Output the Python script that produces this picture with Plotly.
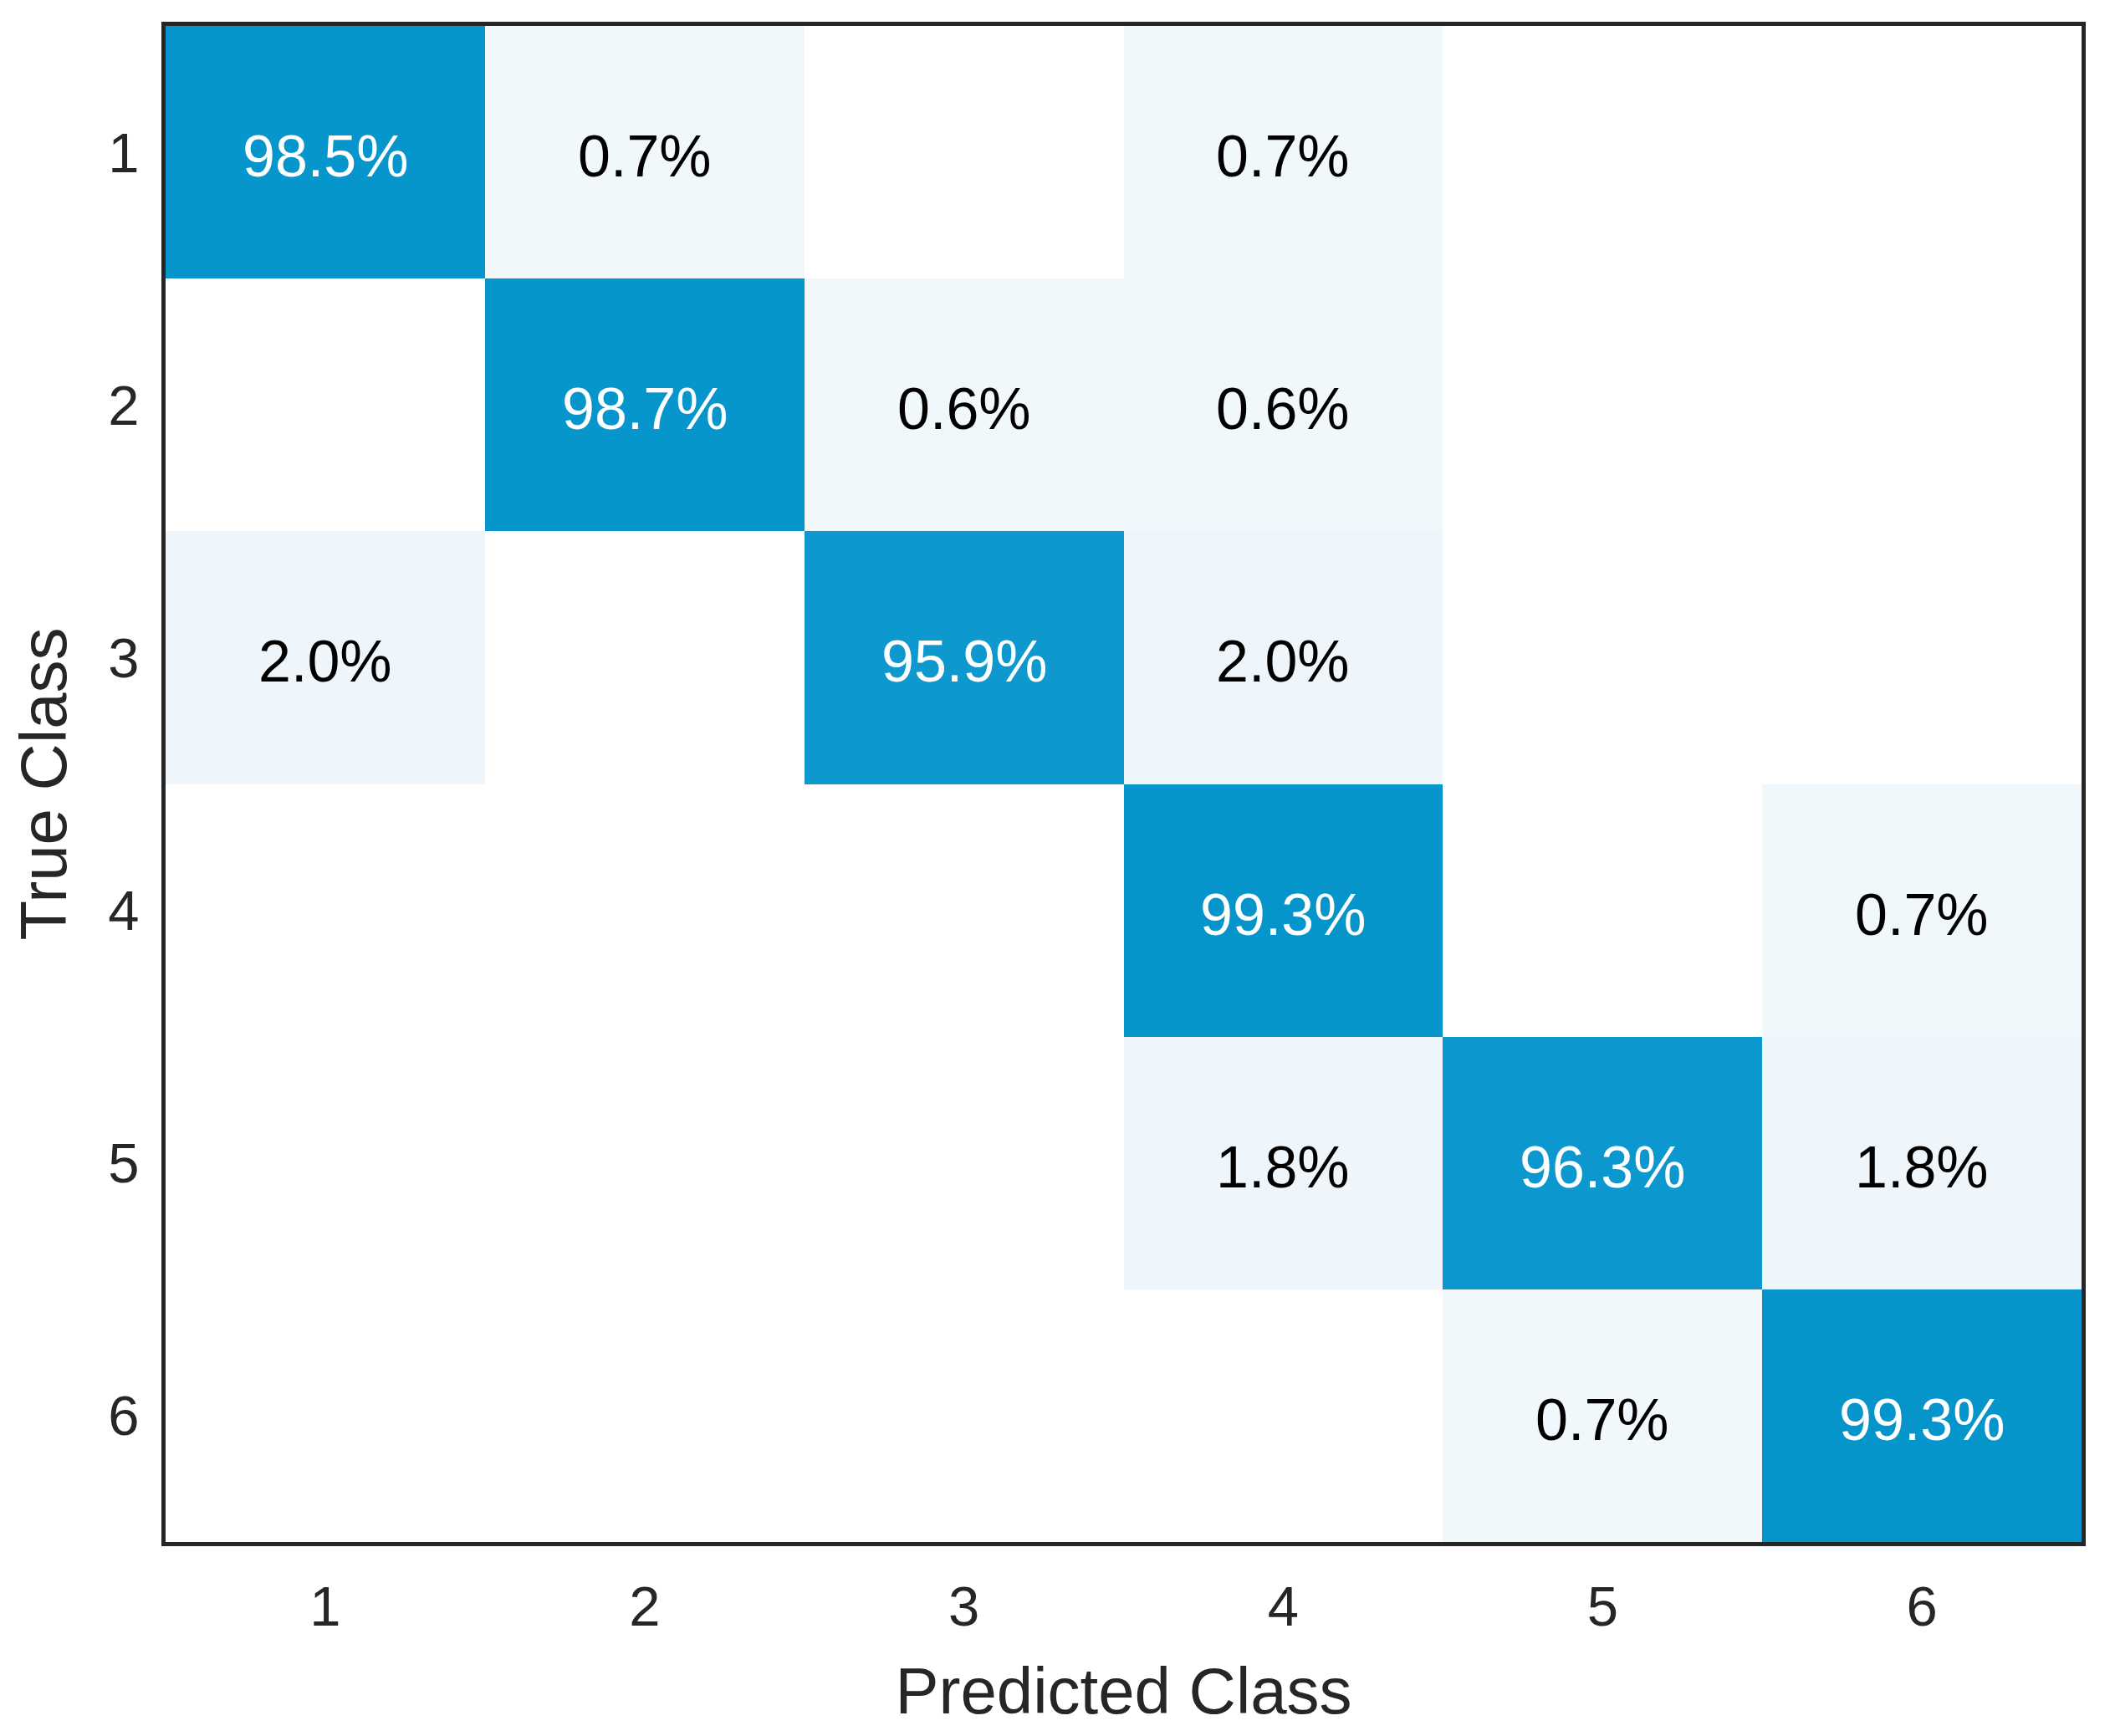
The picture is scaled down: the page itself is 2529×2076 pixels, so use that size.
import plotly.graph_objects as go

classes = [1, 2, 3, 4, 5, 6]
tick_labels = ["1", "2", "3", "4", "5", "6"]
row1 = [98.5, 0.7, 0.0, 0.7, 0.0, 0.0]
row2 = [0.0, 98.7, 0.6, 0.6, 0.0, 0.0]
row3 = [2.0, 0.0, 95.9, 2.0, 0.0, 0.0]
row4 = [0.0, 0.0, 0.0, 99.3, 0.0, 0.7]
row5 = [0.0, 0.0, 0.0, 1.8, 96.3, 1.8]
row6 = [0.0, 0.0, 0.0, 0.0, 0.7, 99.3]
matrix = [row1, row2, row3, row4, row5, row6]

FONT = "Liberation Sans, Arial, Helvetica, sans-serif"
AXIS_COLOR = "#262626"

colorscale = [
    [0.0, "#ffffff"],
    [0.004, "#ffffff"],
    [0.005, "#f1f8fc"],
    [0.03, "#ecf5fa"],
    [0.95, "#0f9acf"],
    [1.0, "#0494ca"],
]

fig = go.Figure()
fig.add_trace(go.Heatmap(
    x=classes, y=classes, z=matrix,
    zmin=0, zmax=100, colorscale=colorscale,
    showscale=False, hoverinfo="skip",
))

annotations = []
for i, row in enumerate(matrix):
    for j, v in enumerate(row):
        if v > 0:
            annotations.append(dict(
                x=classes[j], y=classes[i], xref="x", yref="y",
                text=f"{v:.1f}%", showarrow=False, yshift=-5,
                font=dict(family=FONT, size=70,
                          color="#ffffff" if v > 50 else "#000000"),
            ))

fig.update_layout(
    width=2529, height=2076,
    margin=dict(l=190, r=48, t=23, b=240),
    paper_bgcolor="white", plot_bgcolor="white",
    font=dict(family=FONT, color=AXIS_COLOR),
    showlegend=False,
    annotations=annotations,
)
fig.update_xaxes(
    range=[0.5, 6.5], tickvals=classes, ticktext=tick_labels,
    tickfont=dict(size=67, color=AXIS_COLOR, family=FONT),
    ticks="", showgrid=False, zeroline=False,
    showline=True, mirror=True, linecolor=AXIS_COLOR, linewidth=5,
    ticklabelstandoff=15,
    title=dict(text="Predicted Class", font=dict(size=78, color=AXIS_COLOR, family=FONT), standoff=39),
    automargin=False,
)
fig.update_yaxes(
    range=[6.5, 0.5], tickvals=classes, ticktext=tick_labels,
    tickfont=dict(size=67, color=AXIS_COLOR, family=FONT),
    ticks="", showgrid=False, zeroline=False,
    showline=True, mirror=True, linecolor=AXIS_COLOR, linewidth=5,
    ticklabelstandoff=13,
    title=dict(text="True Class", font=dict(size=78, color=AXIS_COLOR, family=FONT), standoff=40),
    automargin=False,
)

fig.write_html("out.html")
